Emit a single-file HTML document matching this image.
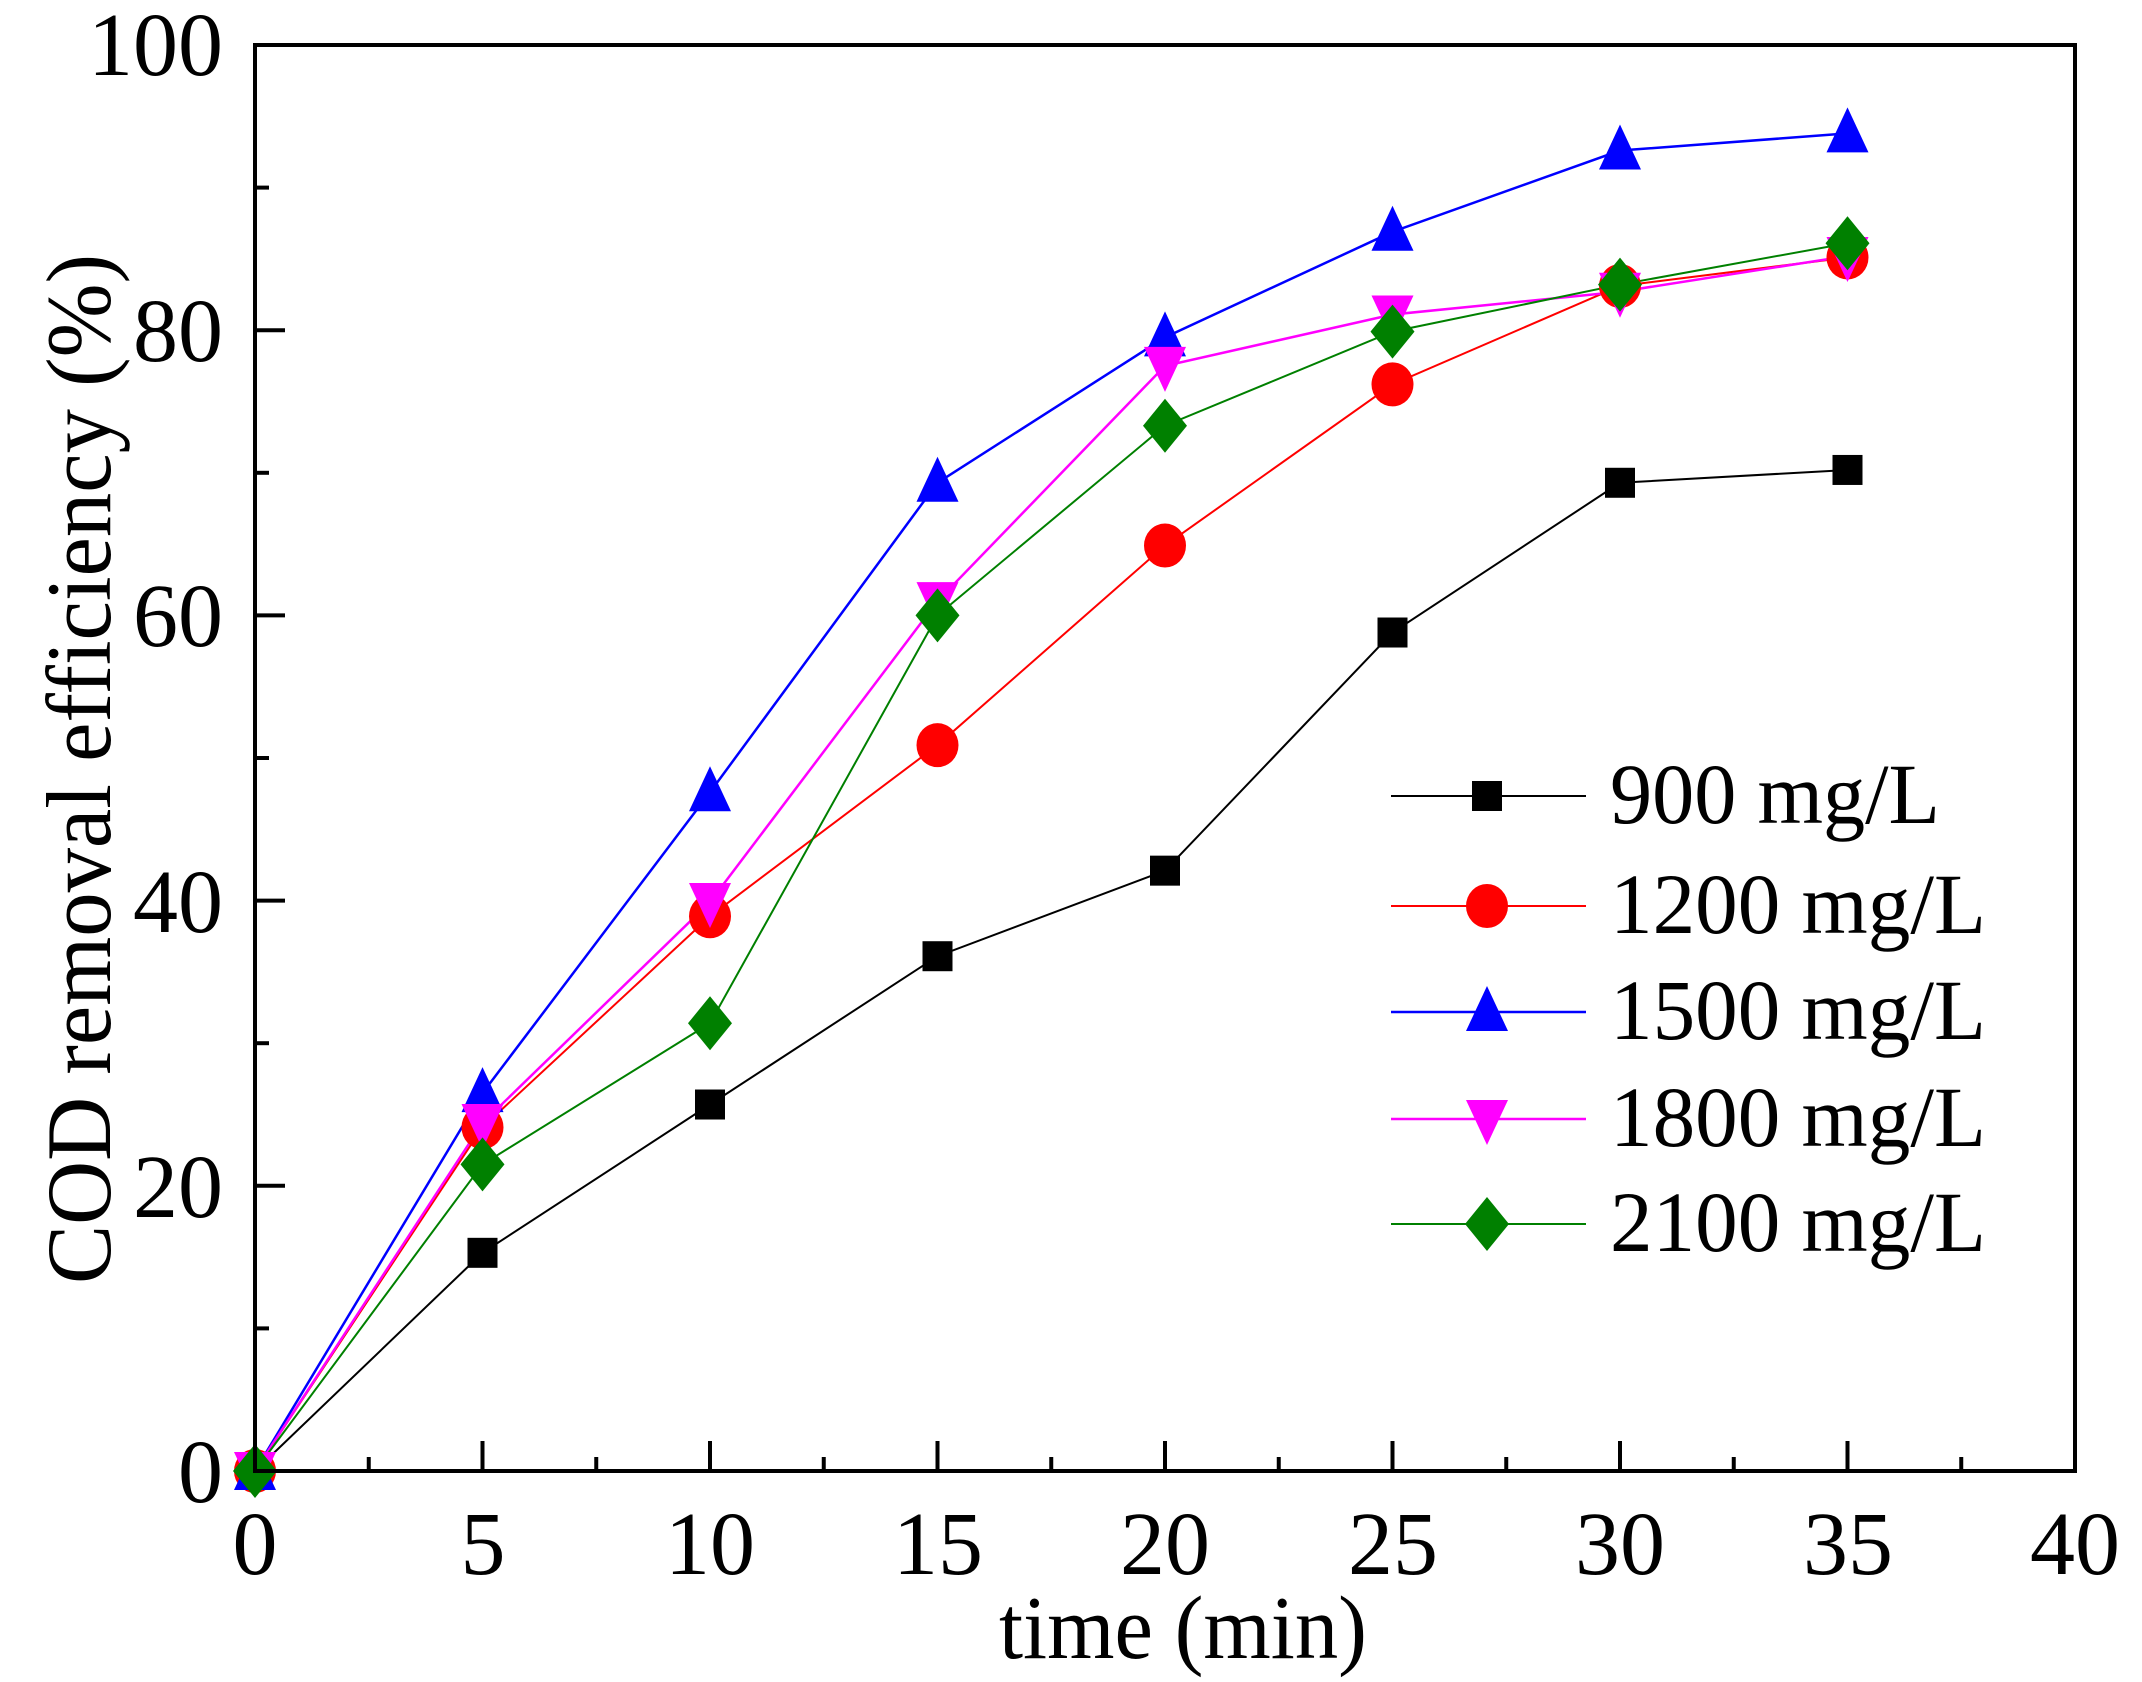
<!DOCTYPE html>
<html><head><meta charset="utf-8"><style>html,body{margin:0;padding:0;background:#fff}svg{display:block}text{font-family:"Liberation Serif",serif;fill:#000}</style></head>
<body>
<svg id="s" width="2142" height="1682" viewBox="0 0 2142 1682" xmlns="http://www.w3.org/2000/svg">
<rect width="2142" height="1682" fill="#fff"/>
<g id="plot"></g>
<rect x="255" y="45" width="1820" height="1426" fill="none" stroke="#000" stroke-width="4"/>
<g font-size="90" text-anchor="end">
<text x="223" y="1502">0</text><text x="223" y="1217">20</text><text x="223" y="932">40</text><text x="223" y="646">60</text><text x="223" y="361">80</text><text x="223" y="75">100</text>
</g>
<g font-size="90" text-anchor="middle">
<text x="255" y="1574">0</text><text x="483" y="1574">5</text><text x="710" y="1574">10</text><text x="938" y="1574">15</text><text x="1165" y="1574">20</text><text x="1393" y="1574">25</text><text x="1620" y="1574">30</text><text x="1848" y="1574">35</text><text x="2075" y="1574">40</text>
</g>
<text x="1183" y="1658" font-size="90" text-anchor="middle" textLength="368" lengthAdjust="spacingAndGlyphs">time (min)</text>
<text transform="translate(110,769) rotate(-90)" font-size="92" text-anchor="middle" textLength="1030" lengthAdjust="spacingAndGlyphs">COD removal efficiency (%)</text>
<g font-size="86">
<text x="1610" y="823" textLength="330" lengthAdjust="spacingAndGlyphs">900 mg/L</text><text x="1610" y="933" textLength="376" lengthAdjust="spacingAndGlyphs">1200 mg/L</text><text x="1610" y="1039" textLength="376" lengthAdjust="spacingAndGlyphs">1500 mg/L</text><text x="1610" y="1146" textLength="376" lengthAdjust="spacingAndGlyphs">1800 mg/L</text><text x="1610" y="1251" textLength="376" lengthAdjust="spacingAndGlyphs">2100 mg/L</text>
</g>
</svg>
<script>
const X=t=>255+t*45.5, Y=v=>1471-v*14.26;
const ts=[0,5,10,15,20,25,30,35];
const S=[
 {c:'#000',m:'sq',d:[0,15.3,25.7,36.1,42.1,58.8,69.3,70.2],w:2},
 {c:'#f00',m:'ci',d:[0,24.1,38.9,50.9,64.9,76.2,83.1,85.1],w:2},
 {c:'#00f',m:'tu',d:[0,26.5,47.6,69.3,79.5,86.9,92.6,93.8],w:2.5},
 {c:'#f0f',m:'td',d:[0,24.4,39.9,61,77.5,81.1,82.7,85.2],w:2.5},
 {c:'#008000',m:'di',d:[0,21.5,31.4,60,73.3,79.9,83.2,86.1],w:2}];
let h='';
for(let t=2.5;t<40;t+=2.5){const x=X(t),L=(Math.round(t/2.5)%2==0)?30:14;h+=`<line x1="${x}" y1="1471" x2="${x}" y2="${1471-L}" stroke="#000" stroke-width="4"/>`;}
for(let v=10;v<100;v+=10){const y=Y(v),L=(v%20==0)?30:14;h+=`<line x1="255" y1="${y}" x2="${255+L}" y2="${y}" stroke="#000" stroke-width="4"/>`;}
function mk(m,x,y,c){
 if(m=='sq')return `<rect x="${x-15}" y="${y-15}" width="30" height="30" fill="${c}"/>`;
 if(m=='ci')return `<ellipse cx="${x}" cy="${y}" rx="21" ry="22" fill="${c}"/>`;
 if(m=='tu')return `<polygon points="${x},${y-26} ${x-21},${y+19} ${x+21},${y+19}" fill="${c}"/>`;
 if(m=='td')return `<polygon points="${x},${y+26} ${x-21},${y-19} ${x+21},${y-19}" fill="${c}"/>`;
 return `<polygon points="${x},${y-27} ${x+22},${y} ${x},${y+27} ${x-22},${y}" fill="${c}"/>`;
}
for(const s of S){h+=`<polyline fill="none" stroke="${s.c}" stroke-width="${s.w}" points="${ts.map((t,i)=>X(t)+','+Y(s.d[i])).join(' ')}"/>`;}
for(const s of S){ts.forEach((t,i)=>h+=mk(s.m,X(t),Y(s.d[i]),s.c));}
const rows=[796,906,1012,1119,1224];
S.forEach((s,i)=>{h+=`<line x1="1391" y1="${rows[i]}" x2="1586" y2="${rows[i]}" stroke="${s.c}" stroke-width="${s.w}"/>`+mk(s.m,1487,rows[i],s.c);});
document.getElementById('plot').innerHTML=h;
</script>
</body></html>
